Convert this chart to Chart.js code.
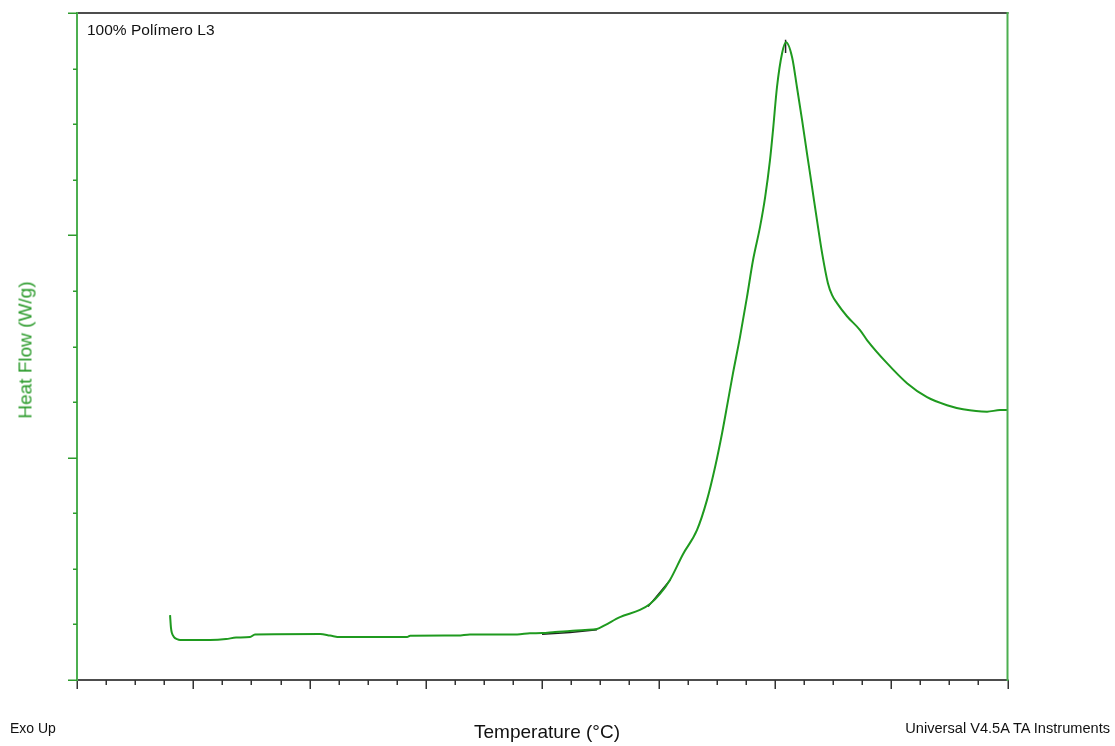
<!DOCTYPE html>
<html>
<head>
<meta charset="utf-8">
<script src="https://cdn.jsdelivr.net/npm/chart.js@4.4.1/dist/chart.umd.min.js"></script>
<style>
  html, body { margin: 0; padding: 0; background: #fff; }
  #wrap { position: relative; width: 1115px; height: 746px; font-family: 'Liberation Sans', Arial, sans-serif; }
  #chart { position: absolute; left: 0; top: 0; }
  .lbl { position: absolute; white-space: nowrap; line-height: 1; }
</style>
</head>
<body>
<div id="wrap">
  <canvas id="chart" width="1115" height="746"></canvas>
  <div class="lbl" style="left:87px; top:22px; font-size:15.5px; color:#111;">100% Polímero L3</div>
  <div class="lbl" style="left:25px; top:350px; font-size:19px; color:#2a9a2a; transform: translate(-50%, -50%) rotate(-90deg);">Heat Flow (W/g)</div>
  <div class="lbl" style="left:547px; top:722px; font-size:19px; color:#111; transform: translateX(-50%);">Temperature (°C)</div>
  <div class="lbl" style="left:10px; top:721px; font-size:14px; color:#111;">Exo Up</div>
  <div class="lbl" style="right:5px; top:721px; font-size:14.6px; color:#111;">Universal V4.5A TA Instruments</div>
</div>
<script>
// Heat flow curve (temperature, heat flow)
const temps = [
  40.0, 40.4, 40.8, 41.7, 43.0, 44.3, 57.2, 64.1, 68.4, 74.4, 76.5, 104.5, 108.8, 113.1,
  141.9, 143.2, 163.8, 168.9, 189.2, 194.7, 199.9, 205.5, 211.9, 218.4, 223.5, 227.0,
  233.4, 242.0, 246.3, 250.6, 254.9, 260.5, 266.5, 270.8, 274.3, 277.3, 279.9, 282.0,
  285.0, 288.0, 290.6, 293.6, 295.8, 297.9, 299.2, 300.9, 303.1, 304.8, 307.4, 309.5,
  311.7, 313.8, 316.0, 318.1, 320.3, 322.8, 324.6, 326.7, 331.0, 336.6, 339.6, 348.2,
  356.8, 365.4, 374.0, 380.9, 391.2, 396.8, 400.0
];
const heatFlow = [
  0.292, 0.234, 0.211, 0.193, 0.184, 0.180, 0.180, 0.184, 0.191, 0.193, 0.205, 0.207, 0.200, 0.193,
  0.193, 0.199, 0.200, 0.205, 0.205, 0.210, 0.211, 0.216, 0.220, 0.225, 0.229, 0.247,
  0.283, 0.315, 0.342, 0.387, 0.450, 0.566, 0.674, 0.809, 0.958, 1.110, 1.259, 1.380,
  1.542, 1.722, 1.888, 2.037, 2.171, 2.338, 2.473, 2.666, 2.819, 2.868, 2.801, 2.666,
  2.518, 2.369, 2.216, 2.068, 1.920, 1.785, 1.731, 1.695, 1.636, 1.574, 1.529, 1.425,
  1.335, 1.272, 1.236, 1.218, 1.207, 1.214, 1.214
];

// Analysis marks (baseline tangent, onset tangent, peak marker); null breaks the line
const markTemps = [199.9, 211.9, 223.5, 224.0, 245.5, 255.0, 255.5, 304.6, 304.6];
const markFlow  = [0.206, 0.214, 0.226, null, 0.330, 0.450, null, 2.880, 2.820];

// Axis ranges and tick steps (no tick labels on this plot)
const xMin = 0, xMax = 400, xMajor = 50, xMinor = 12.5;
const yMin = 0, yMax = 3, yMajor = 1, yMinor = 0.25;

const curve = temps.map((t, i) => ({ x: t, y: heatFlow[i] }));
const marks = markTemps.map((t, i) => ({ x: t, y: markFlow[i] }));

// Frame and tick marks drawn from the chart's own scales
const framePlugin = {
  id: 'frame',
  afterDraw(chart) {
    const { ctx, chartArea: a, scales: { x, y } } = chart;
    ctx.save();
    ctx.lineCap = 'butt';

    // top + bottom (grey)
    ctx.strokeStyle = '#4d4d4d';
    ctx.lineWidth = 2;
    ctx.beginPath();
    ctx.moveTo(a.left - 1, a.top); ctx.lineTo(a.right + 1, a.top);
    ctx.moveTo(a.left - 1, a.bottom); ctx.lineTo(a.right + 1, a.bottom);
    ctx.stroke();

    // x ticks below the bottom axis
    ctx.strokeStyle = '#333';
    ctx.lineWidth = 1.5;
    ctx.beginPath();
    for (let v = xMin; v <= xMax + 1e-6; v += xMinor) {
      const px = Math.round(x.getPixelForValue(v)) + 0.25;
      const len = Math.abs(v % xMajor) < 1e-6 ? 9 : 5;
      ctx.moveTo(px, a.bottom); ctx.lineTo(px, a.bottom + len);
    }
    ctx.stroke();

    // left + right (green)
    ctx.strokeStyle = '#4caf50';
    ctx.lineWidth = 2;
    ctx.beginPath();
    ctx.moveTo(a.left, a.top - 1); ctx.lineTo(a.left, a.bottom + 1);
    ctx.moveTo(a.right, a.top - 1); ctx.lineTo(a.right, a.bottom + 1);
    ctx.stroke();

    // y ticks left of the left axis
    ctx.strokeStyle = '#2e9b2e';
    ctx.lineWidth = 1.5;
    ctx.beginPath();
    for (let v = yMin; v <= yMax + 1e-6; v += yMinor) {
      const py = Math.round(y.getPixelForValue(v)) + 0.25;
      const len = Math.abs(v % yMajor) < 1e-6 ? 9 : 4;
      ctx.moveTo(a.left, py); ctx.lineTo(a.left - len, py);
    }
    ctx.stroke();
    ctx.restore();
  }
};

new Chart(document.getElementById('chart').getContext('2d'), {
  type: 'line',
  data: {
    datasets: [{
      label: 'Heat Flow',
      data: curve,
      borderColor: '#1f9a1f',
      borderWidth: 2,
      pointRadius: 0,
      cubicInterpolationMode: 'monotone',
      fill: false
    }, {
      label: 'Analysis',
      data: marks,
      borderColor: '#222',
      borderWidth: 1.5,
      pointRadius: 0,
      spanGaps: false,
      fill: false
    }]
  },
  options: {
    responsive: false,
    animation: false,
    events: [],
    layout: { padding: { left: 77, top: 13, right: 107.5, bottom: 66 } },
    plugins: {
      legend: { display: false },
      tooltip: { enabled: false }
    },
    scales: {
      x: { type: 'linear', min: xMin, max: xMax, display: false },
      y: { type: 'linear', min: yMin, max: yMax, display: false }
    }
  },
  plugins: [framePlugin]
});
</script>
</body>
</html>
